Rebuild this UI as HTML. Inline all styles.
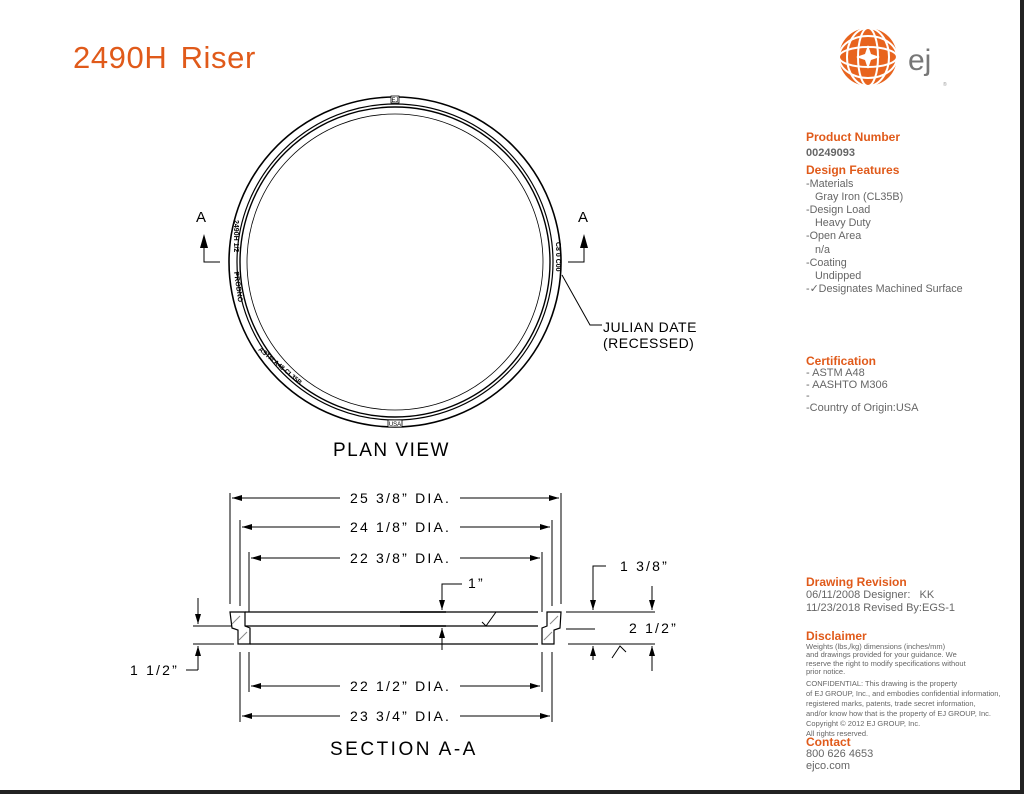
<!DOCTYPE html>
<html><head><meta charset="utf-8"><style>
body{margin:0;background:#fff;}
.wrap{position:relative;width:1024px;height:794px;overflow:hidden;background:#fff;font-family:"Liberation Sans",sans-serif;}
.rb{position:absolute;left:1020px;top:0;width:4px;height:794px;background:#222;}
.bb{position:absolute;left:0;top:790px;width:1024px;height:4px;background:#222;}
.side{position:absolute;left:806px;color:#666;font-size:11px;line-height:12.6px;}
.h{color:#e05a1a;font-weight:bold;font-size:12px;}
</style></head><body><div class="wrap">
<div style="position:absolute;left:73px;top:40px;font-size:31px;color:#e05a1a;letter-spacing:0.6px;word-spacing:4px;">2490H Riser</div>
<svg width="1024" height="794" style="position:absolute;left:0;top:0" font-family="Liberation Sans, sans-serif">
<defs><marker id="ar" markerWidth="10" markerHeight="6" refX="10" refY="3" orient="auto" markerUnits="userSpaceOnUse"><path d="M0,0 L10,3 L0,6z" fill="#000"/></marker></defs>
<g transform="translate(868,57)">
<circle r="29" fill="#e8641e"/>
<g stroke="#fff" stroke-width="2" fill="none">
<ellipse rx="10" ry="29"/><ellipse rx="21" ry="29"/>
<ellipse rx="29" ry="10"/><ellipse rx="29" ry="21"/>
</g>
<path d="M0,-12 L3,-3 L12,0 L3,3 L0,12 L-3,3 L-12,0 L-3,-3z" fill="#fff"/>
</g>
<text x="908" y="70" font-size="30" fill="#777">ej</text>
<text x="943" y="86" font-size="5" fill="#999">®</text>
<g fill="none" stroke="#000">
<ellipse cx="395" cy="262" rx="166" ry="165" stroke-width="1.6"/>
<ellipse cx="395" cy="262" rx="158" ry="158" stroke-width="1.2"/>
<ellipse cx="395" cy="262" rx="155" ry="155" stroke-width="1.4"/>
<ellipse cx="395" cy="262" rx="148" ry="148" stroke-width="0.8"/>
</g>
<rect x="391" y="96" width="8" height="7" fill="#fff" stroke="#000" stroke-width=".8"/>
<text x="395" y="102" font-size="6" text-anchor="middle">EJ</text>
<rect x="388" y="420" width="14" height="7" fill="#fff" stroke="#000" stroke-width=".8"/>
<text x="395" y="426" font-size="6" text-anchor="middle">USA</text>
<text transform="translate(234,220) rotate(90)" font-size="7" font-weight="bold">2490H 1/2</text>
<text transform="translate(234,272) rotate(82)" font-size="7" font-weight="bold">PRODNO</text>
<text transform="translate(258,350) rotate(40)" font-size="6.5" font-weight="bold">ASTM A48 CL35B</text>
<text transform="translate(556,242) rotate(90)" font-size="7" font-weight="bold">C8 0 C00</text>
<g stroke="#000" fill="none" stroke-width="1">
<path d="M220,262 H204 V238"/><path d="M568,262 H584 V238"/>
<path d="M562,275 L590,325 H602"/>
</g>
<path d="M200,248 L204,234 L208,248z M580,248 L584,234 L588,248z"/>
<text x="196" y="222" font-size="15">A</text>
<text x="578" y="222" font-size="15">A</text>
<text x="603" y="332" font-size="14" letter-spacing="0.5">JULIAN DATE</text>
<text x="603" y="348" font-size="14" letter-spacing="0.5">(RECESSED)</text>
<text x="333" y="456" font-size="19" letter-spacing="1.5">PLAN VIEW</text>
<g stroke="#000" stroke-width="1" fill="none">
<path d="M230,493 V604 M240,520 V606 M249,552 V612 M561,493 V604 M552,520 V606 M542,552 V612"/>
<path d="M240,652 V722 M249,652 V692 M552,652 V722 M542,652 V692"/>
<path d="M460,498 H559" marker-end="url(#ar)"/>
<path d="M340,498 H232" marker-end="url(#ar)"/>
<path d="M340,527 H242" marker-end="url(#ar)"/><path d="M460,527 H550" marker-end="url(#ar)"/>
<path d="M340,558 H251" marker-end="url(#ar)"/><path d="M460,558 H540" marker-end="url(#ar)"/>
<path d="M340,686 H251" marker-end="url(#ar)"/><path d="M460,686 H540" marker-end="url(#ar)"/>
<path d="M340,716 H242" marker-end="url(#ar)"/><path d="M460,716 H550" marker-end="url(#ar)"/>
<path d="M245,612 H538 M245,626 H538 M250,644 H538" stroke-width="1.2"/>
<path d="M230,612 H245 L245,626 L250,628 V644 H238 V630 L232,628 Z" stroke-width="1.2"/>
<path d="M561,612 H547 L547,626 L542,628 V644 H554 V630 L560,628 Z" stroke-width="1.2"/>
<path d="M232,624 L240,616 M239,640 L247,632 M550,624 L558,616 M544,640 L552,632" stroke="#888"/>
<path d="M400,612 H446 M400,626 H446" stroke-width="1.6"/>
<path d="M193,626 H232 M193,644 H234"/>
<path d="M198,598 V624" marker-end="url(#ar)"/>
<path d="M198,670 V646" marker-end="url(#ar)"/>
<path d="M198,670 H186"/>
<path d="M462,584 H442 V610" marker-end="url(#ar)"/>
<path d="M442,650 V628" marker-end="url(#ar)"/>
<path d="M482,622 L486,626 L496,612"/>
<path d="M566,612 H655 M566,629 H595 M568,644 H655"/>
<path d="M606,566 H593 V610" marker-end="url(#ar)"/>
<path d="M593,660 V646" marker-end="url(#ar)"/>
<path d="M652,586 V610" marker-end="url(#ar)"/>
<path d="M652,671 V646" marker-end="url(#ar)"/>
<path d="M612,658 L620,646 L626,652"/>
</g>
<g font-size="14" fill="#000" letter-spacing="2.2">
<text x="350" y="503">25 3/8” DIA.</text>
<text x="350" y="532">24 1/8” DIA.</text>
<text x="350" y="563">22 3/8” DIA.</text>
<text x="350" y="691">22 1/2” DIA.</text>
<text x="350" y="721">23 3/4” DIA.</text>
<text x="468" y="588">1”</text>
<text x="620" y="571">1 3/8”</text>
<text x="629" y="633">2 1/2”</text>
<text x="130" y="675">1 1/2”</text>
</g>
<text x="330" y="755" font-size="19" letter-spacing="2.5">SECTION A-A</text>
</svg>
<div class="side" style="top:131px;font-size:10.8px;">
<div class="h">Product Number</div>
<div style="font-weight:bold;font-size:11px;line-height:18px;">00249093</div>
<div class="h" style="line-height:16px;">Design Features</div>
<div style="line-height:13.2px">-Materials<br>&nbsp;&nbsp;&nbsp;Gray Iron (CL35B)<br>-Design Load<br>&nbsp;&nbsp;&nbsp;Heavy Duty<br>-Open Area<br>&nbsp;&nbsp;&nbsp;n/a<br>-Coating<br>&nbsp;&nbsp;&nbsp;Undipped<br>-✓Designates Machined Surface</div>
</div>
<div class="side" style="top:354px;line-height:11.5px;">
<div class="h" style="line-height:14px;">Certification</div>
- ASTM A48<br>- AASHTO M306<br>-<br>-Country of Origin:USA
</div>
<div class="side" style="top:575px;line-height:12.5px;">
<div class="h" style="line-height:14px;">Drawing Revision</div>
06/11/2008 Designer:&nbsp;&nbsp;&nbsp;KK<br>11/23/2018 Revised By:EGS-1
</div>
<div class="side" style="top:630px;font-size:7.5px;line-height:8.3px;">
<div class="h" style="line-height:13px;">Disclaimer</div>
Weights (lbs,/kg) dimensions (inches/mm)<br>and drawings provided for your guidance. We<br>reserve the right to modify specifications without<br>prior notice.<div style="height:3px"></div>
<div style="line-height:10px">CONFIDENTIAL: This drawing is the property<br>of EJ GROUP, Inc., and embodies confidential information,<br>registered marks, patents, trade secret information,<br>and/or know how that is the property of EJ GROUP, Inc.<br>Copyright © 2012 EJ GROUP, Inc.<br>All rights reserved.</div>
</div>
<div class="side" style="top:736px;font-size:11px;line-height:12px;">
<div class="h">Contact</div>800 626 4653<br>ejco.com</div>
<div class="rb"></div><div class="bb"></div>
</div></body></html>
